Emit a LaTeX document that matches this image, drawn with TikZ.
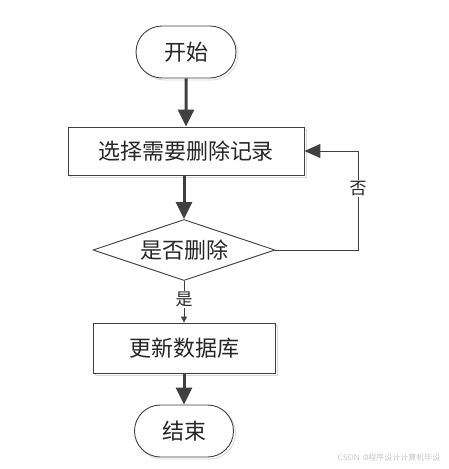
\documentclass[tikz,border=0pt]{standalone}
\usepackage{fontspec}
\newfontfamily\cjk{Noto Sans CJK SC}
\usetikzlibrary{arrows.meta,shapes.geometric,shapes.misc}
\definecolor{ln}{HTML}{404040}
\definecolor{sh}{HTML}{D8D8D8}
\tikzset{
  base/.style={draw=ln, line width=0.9pt, fill=white, inner sep=0pt, font=\cjk\fontsize{22}{24}\selectfont, text=black!85},
  term/.style={base, rounded rectangle, minimum width=100pt, minimum height=52pt},
  proc/.style={base, rectangle, minimum height=48pt},
  dec/.style={base, diamond, aspect=3},
  thick arrow/.style={draw=ln, line width=3pt, -{Triangle[length=17pt,width=16pt]}},
  thin arrow/.style={draw=ln, line width=1pt},
  lbl/.style={font=\cjk\fontsize{17}{19}\selectfont, fill=white, inner sep=1pt, text=black!85},
  shadowc/.style={draw=sh, line width=0.8pt, fill=none, text=sh}
}
\begin{document}
\begin{tikzpicture}[x=1pt,y=-1pt]
\useasboundingbox (0,0) rectangle (448,469);
% shadows
\node[term, shadowc] at (188,54) {\phantom{开始}};
\node[proc, shadowc, minimum width=236pt] at (188,153) {\phantom{选}};
\node[proc, shadowc, minimum width=182pt, minimum height=50pt] at (186,350) {\phantom{更}};
\node[term, shadowc, minimum width=99pt] at (186,433) {\phantom{结束}};
% nodes
\node[term] (start) at (186,52) {开始};
\node[proc, minimum width=236pt] (sel) at (186,151) {选择需要删除记录};
\node[dec, minimum width=182pt, minimum height=61pt] (del) at (184,250) {是否删除};
\node[proc, minimum width=182pt, minimum height=50pt] (upd) at (184,348) {更新数据库};
\node[term, minimum width=99pt] (end) at (184,431) {结束};
\coordinate (c1) at (358,250);
\coordinate (c2) at (358,151);
% connectors
\draw[thick arrow] (start) -- (sel);
\draw[thick arrow] (sel.south -| del.north) -- (del.north);
\draw[thin arrow, -{Triangle[length=6pt,width=6pt]}] (del.south) -- node[lbl, pos=0.45] {是} (upd.north);
\draw[thick arrow] (upd) -- (end);
\draw[thin arrow, -{Triangle[length=16pt,width=14pt]}] (del.east) -- (c1) -- node[lbl, pos=0.62] {否} (c2) -- (sel.east);
% watermark
\node[font=\sffamily\fontsize{8}{9}\selectfont, text=gray!45, anchor=east] (wm) at (444,457) {CSDN @{\cjk 程序设计计算机毕设}};
\end{tikzpicture}
\end{document}
